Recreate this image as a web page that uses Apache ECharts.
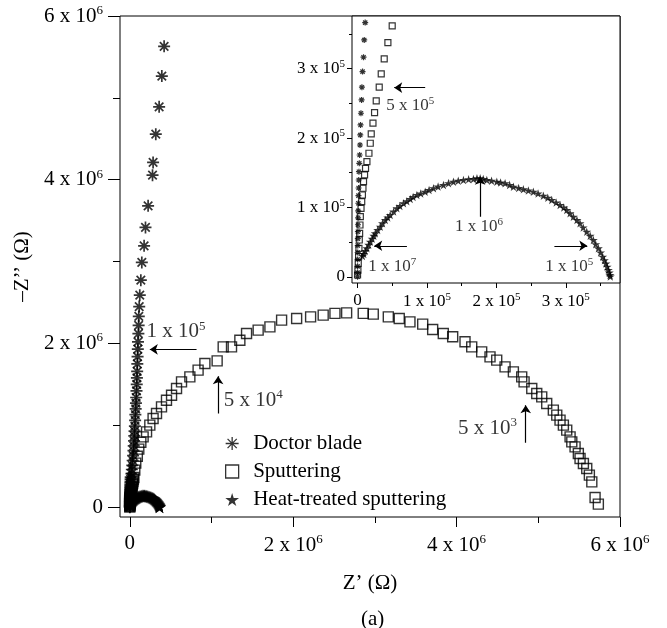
<!DOCTYPE html>
<html><head><meta charset="utf-8">
<script src="https://cdn.jsdelivr.net/npm/echarts@6/dist/echarts.min.js"></script>
<style>html,body{margin:0;padding:0;background:#fff}#c{width:667px;height:628px}</style>
</head><body><div id="c"></div>
<script>
// ---------- DATA (Z', -Z'' in ohm) ----------
const doctorBlade = [
 [420000,5630000],[392000,5266000],[359000,4890000],[318000,4557000],[285000,4211000],[278000,4056000],
 [224000,3681000],[192000,3417000],[175000,3192000],[147000,2990000],[135000,2773000],[122000,2590000],
 [115000,2450000],[110000,2330000],[108000,2220000],[105000,2120000],[100000,2020000],[98000,1930000],
 [95000,1840000],[92000,1750000],[90000,1660000],[87000,1580000],[85000,1500000],[82000,1420000],
 [78000,1340000],[75000,1270000],[72000,1200000],[68000,1130000],[65000,1060000],[62000,990000],
 [58000,930000],[55000,870000],[52000,810000],[48000,750000],[45000,690000],[40000,630000],
 [35000,570000],[30000,510000],[25000,460000],[20000,410000],
 [11000,366500],[9600,341500],[8600,316600],[7200,295800],[6300,273300],[5800,255000],[4900,235800],
 [4300,218900],[3900,204500],[3500,190000],[3000,175600],[2500,163600],[2000,151500],[1700,139500],
 [1500,128000],[1300,117000],[1100,106000],[900,95000],[800,85000],[600,75000],[500,65000],
 [400,55000],[300,45000],[200,35000],[100,25000],[0,15000],[0,6000],[0,0]
];
const sputtering = [
 [5735000,37000],[5695000,119000],[5655000,309000],[5625000,391000],[5593000,473000],[5552000,534000],
 [5511000,595000],[5490000,656000],[5450000,737000],[5410000,798000],[5389000,859000],[5348000,941000],
 [5307000,1002000],[5266000,1063000],[5226000,1124000],[5184000,1185000],[5103000,1267000],[5042000,1348000],
 [4981000,1389000],[4920000,1450000],[4826000,1531000],[4797000,1592000],[4695000,1653000],[4593000,1714000],
 [4491000,1796000],[4409000,1836000],[4307000,1897000],[4185000,1958000],[4103000,2020000],[3952000,2081000],
 [3837000,2122000],[3707000,2171000],[3585000,2236000],[3429000,2264000],[3298000,2305000],[3164000,2325000],
 [2980000,2358000],[2857000,2367000],[2654000,2374000],[2511000,2367000],[2367000,2346000],[2213000,2325000],
 [2042000,2305000],[1858000,2285000],[1715000,2203000],[1571000,2163000],[1429000,2122000],[1347000,2040000],
 [1245000,1958000],[1143000,1958000],[1069000,1787000],[919000,1756000],[836000,1674000],[735000,1592000],
 [633000,1531000],[572000,1450000],[511000,1368000],[449000,1307000],[388000,1225000],[327000,1145000],
 [285000,1084000],[245000,1002000],[205000,920000],[163000,859000],[135000,794000],[110000,709000],
 [92000,623000],[73000,538000],[61000,452000],
 [49900,361800],[43700,337700],[38400,314100],[34100,292500],[31200,273300],[26900,253500],[24500,236700],
 [22200,221400],[19700,205900],[18300,192500],[16400,178100],[13500,166000],[11500,156400],[10100,146800],
 [8600,137100],[7800,127600],[7000,117900],[6000,108200],[5000,98700],[4000,86600],[3500,74600],
 [3000,62600],[2500,53000],[2000,41000],[1500,28900],[1000,19300],[500,9700],[0,2500]
];
const heatTreated = [
 [7000,30000],[9000,33000],[11000,37000],[13500,41000],[16000,46000],[18300,50500],[21000,55000],
 [23500,59000],[25500,62600],[29000,67500],[32700,72200],[36000,77000],[39900,81800],[43500,85500],
 [47000,89000],[52000,94000],[56700,98700],[61000,102000],[66200,105900],[71000,109000],[75800,112100],
 [80000,115000],[85500,117900],[91000,120000],[97400,122700],[103000,125000],[109400,127600],[116000,130000],
 [123700,132300],[131000,135000],[138100,137100],[145000,138500],[152500,139500],[160000,140500],
 [166900,141000],[172000,142000],[176600,142000],[181000,141000],[186200,139500],[193000,138500],
 [200600,137100],[206000,136000],[212500,134800],[219000,132500],[224500,129900],[232000,128000],
 [238800,126100],[246000,124500],[253200,122700],[260000,120000],[267600,116900],[274000,114000],
 [279700,110700],[286000,107000],[291700,103500],[297000,100000],[301300,96200],[306000,91500],
 [310800,86600],[316000,82000],[320400,77100],[325000,71000],[330100,64900],[335000,59000],
 [339600,53000],[343000,47000],[346800,41000],[350000,35000],[353100,28900],[355500,24000],
 [357800,19300],[359500,14500],[361200,9700],[362500,6000],[363600,2500],[364000,500]
];
// tick values
const mainMajorTicks = [0, 2000000, 4000000, 6000000];
const mainMinorTicks = [1000000, 3000000, 5000000];
const insetMajorTicks = [0, 100000, 200000, 300000];
const insetMinorTicks = [50000, 150000, 250000, 350000];
// annotations: [x, y, mantissa, exponent, align]
const mainNotes = [[203000,2142000,'1','5','left'],[1151000,1307000,'5','4','left'],[4740000,962000,'5','3','right']];
const mainArrows = [[[817000,1927000],[245000,1927000]],[[1081000,1145000],[1081000,1600000]],[[4846000,786000],[4846000,1246000]]];
const insetNotes = [[41300,246300,'5','5','left'],[175000,72200,'1','6','center'],[15400,14400,'1','7','left'],[339600,14400,'1','5','right']];
const insetArrows = [[[97400,272700],[52800,272700]],[[176500,86600],[176500,144300]],[[71100,44700],[24000,44700]],[[283500,44700],[330900,44700]]];

// ---------- STYLE ----------
const FONT = 'Liberation Serif';
const INK = '#000';
const ASTERISK = 'path://M0,-10L0,10M-10,0L10,0M-7.07,-7.07L7.07,7.07M-7.07,7.07L7.07,-7.07';
const STAR = 'path://M50,0L61,35L98,35L68,57L79,91L50,70L21,91L32,57L2,35L39,35Z';
const SQUARE = 'path://M0,0L10,0L10,10L0,10Z';

function rich(sz){
  return {
    n:{fontFamily:FONT,fontSize:sz,color:INK},
    s:{fontFamily:FONT,fontSize:Math.round(sz*0.62),color:INK,padding:[0,0,Math.round(sz*0.5),0]}
  };
}
function sci(exp){
  return function(v){
    if (Math.abs(v) < 1e-6) return '{n|0}';
    const m = Math.round(v / Math.pow(10, exp));
    return '{n|' + m + ' x 10}{s|' + exp + '}';
  };
}
function valAxis(o){
  return Object.assign({
    type:'value', scale:false,
    axisLine:{show:false,onZero:false},
    splitLine:{show:false},
    axisPointer:{show:false}
  }, o);
}

const mainX = {min:-120000, max:6000000};
const mainY = {min:-120000, max:6000000};
const insX = {min:-8000, max:378000};
const insY = {min:-9000, max:376000};

const xAxes = [
  valAxis(Object.assign({gridIndex:0, position:'bottom',
    axisTick:{show:true,customValues:mainMajorTicks,length:10,lineStyle:{color:INK,width:1}},
    axisLabel:{customValues:mainMajorTicks,formatter:sci(6),rich:rich(21),margin:16,color:INK},
    name:'Z\u2019 (\u03A9)', nameLocation:'middle', nameGap:56,
    nameTextStyle:{fontFamily:FONT,fontSize:21,color:INK}}, mainX)),
  valAxis(Object.assign({gridIndex:0, position:'bottom',
    axisTick:{show:true,customValues:mainMinorTicks,length:6,lineStyle:{color:INK,width:1}},
    axisLabel:{show:false}}, mainX)),
  valAxis(Object.assign({gridIndex:1, position:'bottom', z:6,
    axisTick:{show:true,customValues:insetMajorTicks,length:5,lineStyle:{color:INK,width:1}},
    axisLabel:{customValues:insetMajorTicks,formatter:sci(5),rich:rich(17),margin:9,color:INK}}, insX)),
  valAxis(Object.assign({gridIndex:1, position:'bottom', z:6,
    axisTick:{show:true,customValues:insetMinorTicks,length:3,lineStyle:{color:INK,width:1}},
    axisLabel:{show:false}}, insX))
];
const yAxes = [
  valAxis(Object.assign({gridIndex:0, position:'left',
    axisTick:{show:true,customValues:mainMajorTicks,length:12,lineStyle:{color:INK,width:1}},
    axisLabel:{customValues:mainMajorTicks,formatter:sci(6),rich:rich(21),margin:17,color:INK},
    name:'\u2013Z\u2019\u2019 (\u03A9)', nameLocation:'middle', nameGap:80,
    nameTextStyle:{fontFamily:FONT,fontSize:21,color:INK}}, mainY)),
  valAxis(Object.assign({gridIndex:0, position:'left',
    axisTick:{show:true,customValues:mainMinorTicks,length:7,lineStyle:{color:INK,width:1}},
    axisLabel:{show:false}}, mainY)),
  valAxis(Object.assign({gridIndex:1, position:'left', z:6,
    axisTick:{show:true,customValues:insetMajorTicks,length:5,lineStyle:{color:INK,width:1}},
    axisLabel:{customValues:insetMajorTicks,formatter:sci(5),rich:rich(17),margin:7,color:INK}}, insY)),
  valAxis(Object.assign({gridIndex:1, position:'left', z:6,
    axisTick:{show:true,customValues:insetMinorTicks,length:3,lineStyle:{color:INK,width:1}},
    axisLabel:{show:false}}, insY))
];

function markerSeries(name, data, grid, sym, size, style, z){
  return {type:'scatter', name:name, data:data, xAxisIndex:grid*2, yAxisIndex:grid*2,
    symbol:sym, symbolSize:size, symbolKeepAspect:true, itemStyle:style, z:z, silent:true, clip:true,
    emphasis:{disabled:true}};
}
const astStyle = {color:INK, borderColor:INK, borderWidth:1.7};
const sqStyle = {color:'rgba(255,255,255,0)', borderColor:INK, borderWidth:1.4};
const starStyle = {color:INK};

function noteSeries(notes, grid, sz, z){
  return {type:'scatter', xAxisIndex:grid*2, yAxisIndex:grid*2, symbolSize:0, silent:true, z:z,
    data: notes.map(n => ({value:[n[0],n[1]], mant:n[2], exp:n[3],
      label:{align:n[4]}})),
    label:{show:true, position:'inside', verticalAlign:'middle', color:INK, rich:rich(sz),
      formatter: p => '{n|' + p.data.mant + ' x 10}{s|' + p.data.exp + '}'}};
}
function arrowSeries(arrows, grid, z){
  return {type:'lines', coordinateSystem:'cartesian2d', xAxisIndex:grid*2, yAxisIndex:grid*2,
    silent:true, z:z, symbol:['none','arrow'], symbolSize:8,
    lineStyle:{color:INK, width:1.2, opacity:1},
    data: arrows.map(a => ({coords:a}))};
}

const option = {
  animation:false,
  backgroundColor:'#fff',
  grid:[
    {left:120, top:16, width:500, height:501, show:true, backgroundColor:'#fff', borderColor:INK, borderWidth:1, z:0},
    {left:352, top:16, width:268, height:267, show:true, backgroundColor:'#fff', borderColor:INK, borderWidth:1, z:3}
  ],
  xAxis:xAxes,
  yAxis:yAxes,
  title:{text:'(a)', left:356, top:604, textStyle:{fontFamily:FONT,fontSize:21,fontWeight:'normal',color:INK}},
  legend:{
    data:['Doctor blade','Sputtering','Heat-treated sputtering'],
    orient:'vertical', left:220, top:428, itemWidth:32, itemHeight:13, itemGap:7,
    selectedMode:false, symbolKeepAspect:true,
    itemStyle:{borderWidth:1.3},
    textStyle:{fontFamily:FONT,fontSize:21,color:INK}
  },
  series:[
    markerSeries('Doctor blade', doctorBlade, 0, ASTERISK, 12, astStyle, 2),
    markerSeries('Sputtering', sputtering, 0, SQUARE, 10, sqStyle, 2),
    markerSeries('Heat-treated sputtering', heatTreated, 0, STAR, 13, starStyle, 2),
    noteSeries(mainNotes, 0, 21, 2),
    arrowSeries(mainArrows, 0, 2),
    markerSeries('Doctor blade', doctorBlade, 1, ASTERISK, 6, {color:INK,borderColor:INK,borderWidth:1.2}, 5),
    markerSeries('Sputtering', sputtering, 1, SQUARE, 6, {color:'rgba(255,255,255,0)',borderColor:INK,borderWidth:1.2}, 5),
    markerSeries('Heat-treated sputtering', heatTreated, 1, STAR, 9, starStyle, 5),
    noteSeries(insetNotes, 1, 17, 5),
    arrowSeries(insetArrows, 1, 5)
  ]
};
const chart = echarts.init(document.getElementById('c'), null, {renderer:'canvas'});
chart.setOption(option);
</script>
</body></html>
